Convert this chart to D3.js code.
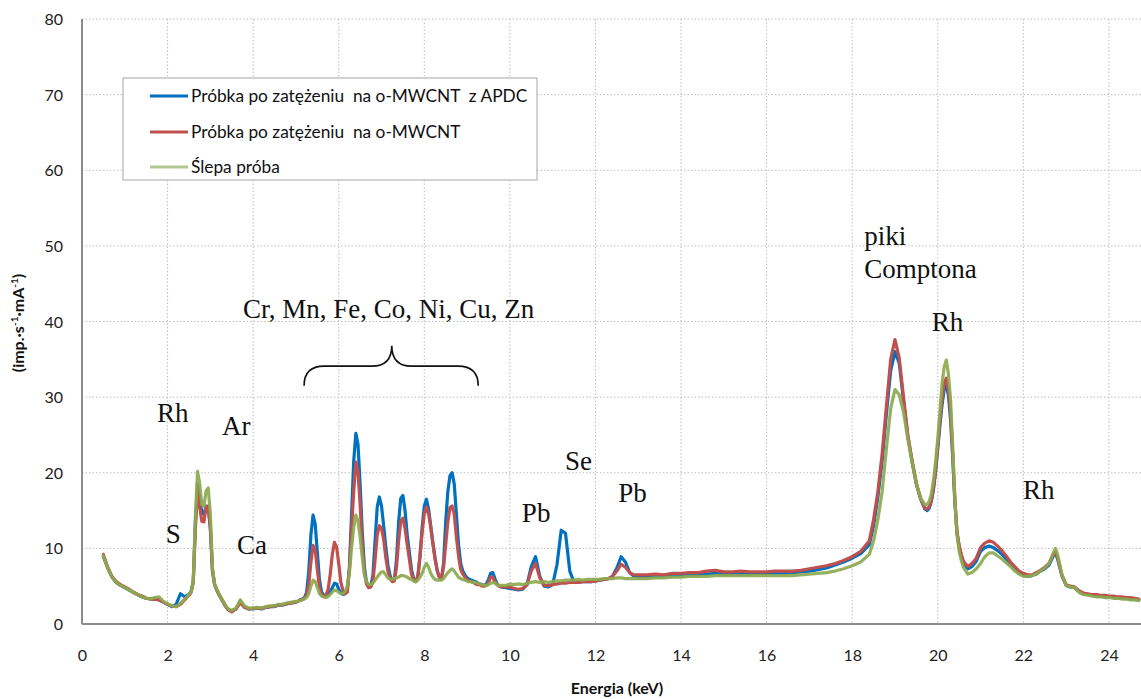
<!DOCTYPE html>
<html>
<head>
<meta charset="utf-8">
<script src="https://cdn.jsdelivr.net/npm/d3@7/dist/d3.min.js"></script>
<style>
  html, body { margin: 0; padding: 0; background: #ffffff; }
  svg { display: block; }
</style>
</head>
<body>
<svg id="chart" width="1141" height="699"></svg>
<script>
// XRF spectra: energy (keV) and count rate (imp.·s⁻¹·mA⁻¹) for three samples

const energyKeV = [
  // 0.5 – 2.5
  0.5,0.6,0.7,0.8,0.9,1.0,1.1,1.2,1.3,1.4,1.5,1.6,1.7,1.8,1.9,2.0,2.1,2.2,2.3,2.4,2.5,
  // 2.55 – 3.5 (Rh L, Ar)
  2.55,2.6,2.65,2.7,2.75,2.8,2.85,2.9,2.95,3.0,3.05,3.1,3.15,3.2,3.25,3.3,3.35,3.4,3.45,3.5,
  // 3.6 – 5.0 (Ca)
  3.6,3.7,3.8,3.9,4.0,4.1,4.2,4.3,4.4,4.5,4.6,4.7,4.8,4.9,5.0,
  // 5.05 – 9.8 (transition metals)
  5.05,5.10,5.15,5.20,5.25,5.30,5.35,5.40,5.45,5.50,
  5.55,5.60,5.65,5.70,5.75,5.80,5.85,5.90,5.95,6.00,
  6.05,6.10,6.15,6.20,6.25,6.30,6.35,6.40,6.45,6.50,
  6.55,6.60,6.65,6.70,6.75,6.80,6.85,6.90,6.95,7.00,
  7.05,7.10,7.15,7.20,7.25,7.30,7.35,7.40,7.45,7.50,
  7.55,7.60,7.65,7.70,7.75,7.80,7.85,7.90,7.95,8.00,
  8.05,8.10,8.15,8.20,8.25,8.30,8.35,8.40,8.45,8.50,
  8.55,8.60,8.65,8.70,8.75,8.80,8.85,8.90,8.95,9.00,
  9.05,9.10,9.15,9.20,9.25,9.30,9.35,9.40,9.45,9.50,
  9.55,9.60,9.65,9.70,9.75,9.80,
  // 9.9 – 13.0 (Pb, Se)
  9.9,10.0,10.1,10.2,10.3,10.4,10.5,10.6,10.7,10.8,
  10.9,11.0,11.1,11.2,11.3,11.4,11.5,11.6,11.7,11.8,
  11.9,12.0,12.1,12.2,12.3,12.4,12.5,12.6,12.7,12.8,
  12.9,13.0,
  // 13.2 – 18.4
  13.2,13.4,13.6,13.8,14.0,14.2,14.4,14.6,14.8,15.0,
  15.2,15.4,15.6,15.8,16.0,16.2,16.4,16.6,16.8,17.0,
  17.2,17.4,17.6,17.8,18.0,18.2,18.4,
  // 18.5 – 19.7 (Compton)
  18.5,18.6,18.7,18.8,18.9,19.0,19.1,19.2,19.3,19.4,19.5,19.6,19.7,
  // 19.75 – 20.6 (Rh Kα)
  19.75,19.80,19.85,19.90,19.95,20.00,20.05,20.10,20.15,20.20,
  20.25,20.30,20.35,20.40,20.45,20.50,20.55,20.60,
  // 20.7 – 24.7 (Rh Kβ)
  20.7,20.8,20.9,21.0,21.1,21.2,21.3,21.4,21.5,21.6,
  21.7,21.8,21.9,22.0,22.1,22.2,22.3,22.4,22.5,22.6,
  22.7,22.75,22.8,22.9,23.0,23.1,23.2,23.3,23.4,23.5,
  23.6,23.7,23.8,23.9,24.0,24.1,24.2,24.3,24.4,24.5,
  24.6,24.7
];

// Próbka po zatężeniu na o-MWCNT z APDC
const apdcSample = [
  8.9,7.4,6.2,5.5,5.1,4.8,4.5,4.2,3.9,3.6,3.4,3.3,3.3,3.2,2.9,2.6,2.3,2.6,4.0,3.6,3.9,
  4.3,5.6,13.5,18.5,16.5,14.8,14.5,15.6,15.4,12.5,7.0,5.2,4.5,3.9,3.4,2.9,2.4,2.0,1.8,1.7,
  2.0,3.0,2.2,2.0,2.0,2.1,2.0,2.2,2.3,2.3,2.5,2.5,2.7,2.8,2.9,
  3.0,3.2,3.3,3.5,4.2,7.0,11.8,14.4,13.2,9.5,
  5.8,4.2,3.8,3.7,3.9,4.2,4.8,5.4,5.3,4.6,
  4.1,3.9,4.0,4.5,7.5,14.5,21.5,25.2,23.8,18.5,
  12.2,7.5,5.5,4.9,5.0,6.5,11.0,15.5,16.8,15.6,
  13.0,10.2,7.8,6.4,5.7,5.8,8.5,13.5,16.6,17.0,
  15.0,11.8,9.5,7.2,6.0,5.6,6.2,9.0,12.8,15.6,
  16.5,15.2,13.0,10.8,8.8,7.1,6.2,6.0,8.0,13.5,
  17.5,19.6,20.0,18.5,14.5,10.5,8.0,7.0,6.5,6.1,
  5.9,5.8,5.7,5.6,5.4,5.3,5.2,5.1,5.3,5.9,
  6.7,6.8,6.0,5.3,5.0,4.9,
  4.8,4.7,4.6,4.5,4.6,5.2,7.6,8.9,6.3,5.0,
  4.9,5.2,7.8,12.4,12.0,7.0,5.5,5.5,5.6,5.6,
  5.6,5.7,5.8,5.9,6.0,6.3,7.4,8.9,8.2,6.8,
  6.3,6.2,
  6.2,6.3,6.3,6.4,6.4,6.5,6.5,6.6,6.7,6.6,
  6.6,6.6,6.6,6.7,6.7,6.7,6.7,6.8,6.9,7.0,
  7.2,7.4,7.8,8.2,8.7,9.3,10.5,
  13.0,16.8,21.5,27.8,33.5,36.0,34.5,29.5,24.8,21.5,18.5,16.5,15.2,
  15.0,15.3,16.2,17.8,20.2,23.2,26.2,29.0,31.0,31.6,
  30.2,27.0,22.0,16.0,12.0,10.2,9.0,8.0,
  7.3,7.6,8.3,9.6,10.1,10.3,10.1,9.7,9.2,8.6,
  7.9,7.3,6.8,6.5,6.3,6.4,6.6,7.0,7.3,7.8,
  9.0,9.4,8.6,6.4,5.1,4.9,4.8,4.3,4.0,3.9,
  3.8,3.7,3.7,3.6,3.6,3.5,3.5,3.4,3.4,3.3,
  3.3,3.2
];

// Próbka po zatężeniu na o-MWCNT
const mwcntSample = [
  9.2,7.5,6.3,5.6,5.2,4.9,4.6,4.2,3.9,3.7,3.4,3.3,3.3,3.2,2.9,2.6,2.4,2.3,2.6,3.2,3.8,
  4.2,5.5,12.5,17.8,15.5,13.6,13.5,15.5,15.6,12.8,7.0,5.2,4.5,3.9,3.4,2.9,2.4,2.0,1.8,1.6,
  2.0,2.8,2.2,2.0,2.1,2.1,2.1,2.2,2.3,2.4,2.5,2.6,2.7,2.8,2.9,
  3.0,3.2,3.2,3.4,3.8,5.2,8.2,10.4,9.8,7.2,
  4.8,3.8,3.6,3.8,4.5,6.5,9.2,10.8,10.2,8.0,
  5.5,4.4,4.0,4.2,7.2,12.5,17.5,21.4,20.2,15.8,
  10.5,6.8,5.3,4.8,4.9,5.6,8.5,11.8,13.0,12.6,
  11.2,8.8,7.0,6.0,5.6,5.7,7.5,11.0,13.6,14.0,
  12.6,10.5,8.6,6.6,5.8,5.6,6.4,9.0,12.2,14.6,
  15.5,14.6,12.8,10.6,8.6,7.1,6.2,6.0,7.5,10.5,
  13.5,15.4,15.6,14.5,11.5,9.0,7.2,6.6,6.2,5.8,
  5.7,5.6,5.5,5.3,5.2,5.2,5.0,5.0,5.1,5.5,
  6.2,6.2,5.6,5.2,5.0,4.9,
  4.9,4.9,4.7,4.6,4.7,5.2,7.0,8.0,6.1,5.1,
  5.1,5.2,5.3,5.4,5.4,5.5,5.5,5.5,5.6,5.6,
  5.6,5.7,5.8,5.9,6.0,6.3,7.0,7.9,7.5,6.8,
  6.5,6.5,
  6.5,6.6,6.5,6.7,6.7,6.8,6.8,7.0,7.1,6.9,
  6.9,7.0,6.9,6.9,6.9,7.0,7.0,7.0,7.1,7.3,
  7.5,7.7,8.0,8.4,8.9,9.6,11.0,
  13.8,17.5,22.5,28.8,35.0,37.6,35.2,30.0,25.0,21.6,18.6,16.6,15.3,
  15.2,15.5,16.4,18.0,20.4,23.6,26.8,29.8,31.8,32.5,
  31.0,28.0,22.5,16.5,12.2,10.4,9.2,8.3,
  7.6,8.0,8.7,10.1,10.7,11.0,10.8,10.3,9.7,9.0,
  8.2,7.6,7.0,6.7,6.5,6.5,6.8,7.1,7.5,8.0,
  9.2,9.5,8.8,6.5,5.2,5.0,4.9,4.4,4.1,4.0,
  3.9,3.9,3.8,3.8,3.7,3.7,3.6,3.6,3.5,3.5,
  3.4,3.3
];

// Ślepa próba
const blankSample = [
  9.0,7.4,6.2,5.5,5.1,4.8,4.5,4.2,3.9,3.6,3.4,3.3,3.5,3.6,3.0,2.7,2.4,2.3,2.7,3.3,3.9,
  4.2,5.7,14.0,20.2,18.6,15.8,15.6,17.6,18.0,14.5,7.4,5.3,4.6,4.0,3.5,3.0,2.5,2.1,1.9,1.8,
  2.1,3.2,2.4,2.1,2.1,2.2,2.1,2.3,2.4,2.4,2.6,2.6,2.8,2.9,3.0,
  3.0,3.1,3.2,3.3,3.5,4.0,5.0,5.8,5.6,4.8,
  4.0,3.7,3.6,3.5,3.6,3.9,4.2,4.5,4.4,4.2,
  4.0,4.0,4.3,5.0,6.8,10.0,12.8,14.4,13.6,11.5,
  8.8,6.5,5.6,5.2,5.2,5.4,5.8,6.2,6.6,6.9,
  6.9,6.5,6.1,5.9,5.9,6.0,6.1,6.2,6.4,6.4,
  6.3,6.2,6.0,5.9,5.7,5.6,5.8,6.2,6.7,7.5,
  8.0,7.5,6.7,6.2,5.9,5.8,5.8,5.8,6.0,6.4,
  6.8,7.1,7.3,7.0,6.6,6.2,6.0,5.9,5.8,5.7,
  5.6,5.6,5.5,5.5,5.4,5.3,5.2,5.1,5.1,5.2,
  5.4,5.5,5.4,5.2,5.1,5.1,
  5.1,5.3,5.2,5.3,5.2,5.4,5.5,5.6,5.5,5.6,
  5.5,5.6,5.7,5.7,5.8,5.8,5.8,5.9,5.8,5.9,
  5.9,5.9,5.9,6.0,6.0,6.0,6.1,6.1,6.0,6.0,
  6.0,6.0,
  6.0,6.1,6.1,6.2,6.2,6.3,6.3,6.3,6.4,6.4,
  6.4,6.4,6.4,6.4,6.4,6.4,6.4,6.4,6.5,6.6,
  6.7,6.8,7.0,7.3,7.7,8.2,9.2,
  11.0,13.8,17.5,23.2,28.5,31.0,30.3,28.0,24.5,21.4,18.6,16.6,15.8,
  15.8,16.2,17.2,19.0,21.5,24.5,28.0,31.8,34.0,34.9,
  33.0,29.6,23.5,16.5,11.8,9.6,8.4,7.5,
  6.6,6.8,7.3,8.0,8.9,9.4,9.4,9.0,8.6,8.1,
  7.6,7.0,6.6,6.3,6.3,6.4,6.6,7.0,7.4,8.0,
  9.4,10.0,9.2,6.6,5.1,4.9,4.8,4.2,3.9,3.8,
  3.7,3.6,3.6,3.5,3.5,3.4,3.4,3.3,3.3,3.2,
  3.2,3.1
];

const seriesNames = [
  "Próbka po zatężeniu  na o-MWCNT  z APDC",
  "Próbka po zatężeniu  na o-MWCNT",
  "Ślepa próba"
];
const seriesColors = ["#0070C0", "#C0504D", "#8DAA4F"];
const legendColors = ["#0070C0", "#C0504D", "#B3C98F"];

const xTicks = [0, 2, 4, 6, 8, 10, 12, 14, 16, 18, 20, 22, 24];
const yTicks = [0, 10, 20, 30, 40, 50, 60, 70, 80];

// Element labels placed in data units (keV, count rate)
const peakLabels = [
  { text: "Rh", e: 1.75, v: 26.7 },
  { text: "Ar", e: 3.27, v: 25.0 },
  { text: "S", e: 1.96, v: 10.7 },
  { text: "Ca", e: 3.62, v: 9.3 },
  { text: "Cr, Mn, Fe, Co, Ni, Cu, Zn", e: 3.76, v: 40.5 },
  { text: "Pb", e: 10.28, v: 13.5 },
  { text: "Se", e: 11.29, v: 20.4 },
  { text: "Pb", e: 12.53, v: 16.1 },
  { text: "piki", e: 18.28, v: 50.1 },
  { text: "Comptona", e: 18.28, v: 45.7 },
  { text: "Rh", e: 19.86, v: 38.7 },
  { text: "Rh", e: 21.99, v: 16.5 }
];

[apdcSample, mwcntSample, blankSample].forEach((s, i) => {
  if (s.length !== energyKeV.length) {
    throw new Error("series " + i + " length " + s.length + " != " + energyKeV.length);
  }
});

const svg = d3.select("#chart");
const plot = { left: 82, right: 1141, top: 19, bottom: 624 };

const x = d3.scaleLinear().domain([0, 24.75]).range([plot.left, plot.right]);
const y = d3.scaleLinear().domain([0, 80]).range([plot.bottom, plot.top]);

const sansFont = "Lato, 'Open Sans', sans-serif";
const serifFont = "'Liberation Serif', 'DejaVu Serif', serif";

// Gridlines
const grid = svg.append("g").attr("class", "grid");
grid.selectAll("line.h")
  .data(yTicks.filter(d => d > 0))
  .join("line")
  .attr("x1", plot.left).attr("x2", plot.right)
  .attr("y1", d => y(d)).attr("y2", d => y(d))
  .attr("stroke", "#bdbdbd").attr("stroke-width", 1)
  .attr("stroke-dasharray", "1.5,2");
grid.selectAll("line.v")
  .data(xTicks.filter(d => d > 0))
  .join("line")
  .attr("x1", d => x(d)).attr("x2", d => x(d))
  .attr("y1", plot.top).attr("y2", plot.bottom)
  .attr("stroke", "#bdbdbd").attr("stroke-width", 1)
  .attr("stroke-dasharray", "1.5,2");

// Axes
const xAxis = d3.axisBottom(x).tickValues(xTicks).tickSize(0).tickPadding(26);
const yAxis = d3.axisLeft(y).tickValues(yTicks).tickSize(0).tickPadding(19);

const gx = svg.append("g").attr("transform", `translate(0,${plot.bottom})`).call(xAxis);
const gy = svg.append("g").attr("transform", `translate(${plot.left},0)`).call(yAxis);
[gx, gy].forEach(g => {
  g.select(".domain").attr("stroke", "#8c8c8c").attr("stroke-width", 2);
  g.selectAll("text")
    .attr("font-family", sansFont)
    .attr("font-size", 16)
    .attr("fill", "#222");
});
gy.selectAll("text").attr("dy", "0.35em");
gx.select(".domain").attr("d", `M${plot.left},0H${plot.right}`);
gy.select(".domain").attr("d", `M0,${plot.bottom}V${plot.top}`);

// Spectra
const line = d3.line()
  .x((d, i) => x(energyKeV[i]))
  .y(d => y(d))
  .curve(d3.curveLinear);

const lines = svg.append("g").attr("class", "spectra");
[apdcSample, mwcntSample, blankSample].forEach((s, i) => {
  lines.append("path")
    .datum(s)
    .attr("d", line)
    .attr("fill", "none")
    .attr("stroke", seriesColors[i])
    .attr("stroke-width", 3.2)
    .attr("stroke-linejoin", "round")
    .attr("stroke-linecap", "round")
    .attr("opacity", i === 2 ? 0.92 : 1);
});

// Peak labels
svg.append("g").selectAll("text")
  .data(peakLabels)
  .join("text")
  .attr("x", d => x(d.e))
  .attr("y", d => y(d.v))
  .attr("font-family", serifFont)
  .attr("font-size", 27)
  .attr("fill", "#111")
  .text(d => d.text);

// Curly brace grouping the transition-metal peaks
{
  const x0 = x(5.19), x1 = x(9.26), xm = x(7.24);
  const yEnd = y(31.5), yBar = y(34.1), yTip = y(36.8);
  const r = 20;
  const p = d3.path();
  p.moveTo(x0, yEnd);
  p.quadraticCurveTo(x0, yBar, x0 + r, yBar);
  p.lineTo(xm - r, yBar);
  p.quadraticCurveTo(xm, yBar, xm, yTip);
  p.quadraticCurveTo(xm, yBar, xm + r, yBar);
  p.lineTo(x1 - r, yBar);
  p.quadraticCurveTo(x1, yBar, x1, yEnd);
  svg.append("path")
    .attr("d", p.toString())
    .attr("fill", "none")
    .attr("stroke", "#111")
    .attr("stroke-width", 1.6);
}

// Legend
{
  const lg = svg.append("g").attr("class", "legend");
  lg.append("rect")
    .attr("x", 123).attr("y", 78)
    .attr("width", 414).attr("height", 102)
    .attr("fill", "#fff")
    .attr("stroke", "#a6a6a6").attr("stroke-width", 1);
  const rows = [96, 132, 167];
  seriesNames.forEach((name, i) => {
    lg.append("line")
      .attr("x1", 150).attr("x2", 188)
      .attr("y1", rows[i]).attr("y2", rows[i])
      .attr("stroke", legendColors[i])
      .attr("stroke-width", 3);
    lg.append("text")
      .attr("x", 191).attr("y", rows[i])
      .attr("dy", "0.35em")
      .attr("font-family", sansFont)
      .attr("font-size", 17.3)
      .attr("fill", "#111")
      .style("white-space", "pre")
      .text(name);
  });
}

// Axis titles
svg.append("text")
  .attr("x", 617).attr("y", 694)
  .attr("text-anchor", "middle")
  .attr("font-family", sansFont)
  .attr("font-weight", "bold")
  .attr("font-size", 16)
  .attr("fill", "#111")
  .text("Energia (keV)");

{
  const t = svg.append("text")
    .attr("transform", "translate(24,323) rotate(-90)")
    .attr("text-anchor", "middle")
    .attr("font-family", sansFont)
    .attr("font-weight", "bold")
    .attr("font-size", 16)
    .attr("fill", "#111");
  t.append("tspan").text("(imp.·s");
  t.append("tspan").attr("font-size", 10).attr("dy", -6).text("-1");
  t.append("tspan").attr("dy", 6).text("·mA");
  t.append("tspan").attr("font-size", 10).attr("dy", -6).text("-1");
  t.append("tspan").attr("dy", 6).text(")");
}
</script>
</body>
</html>
